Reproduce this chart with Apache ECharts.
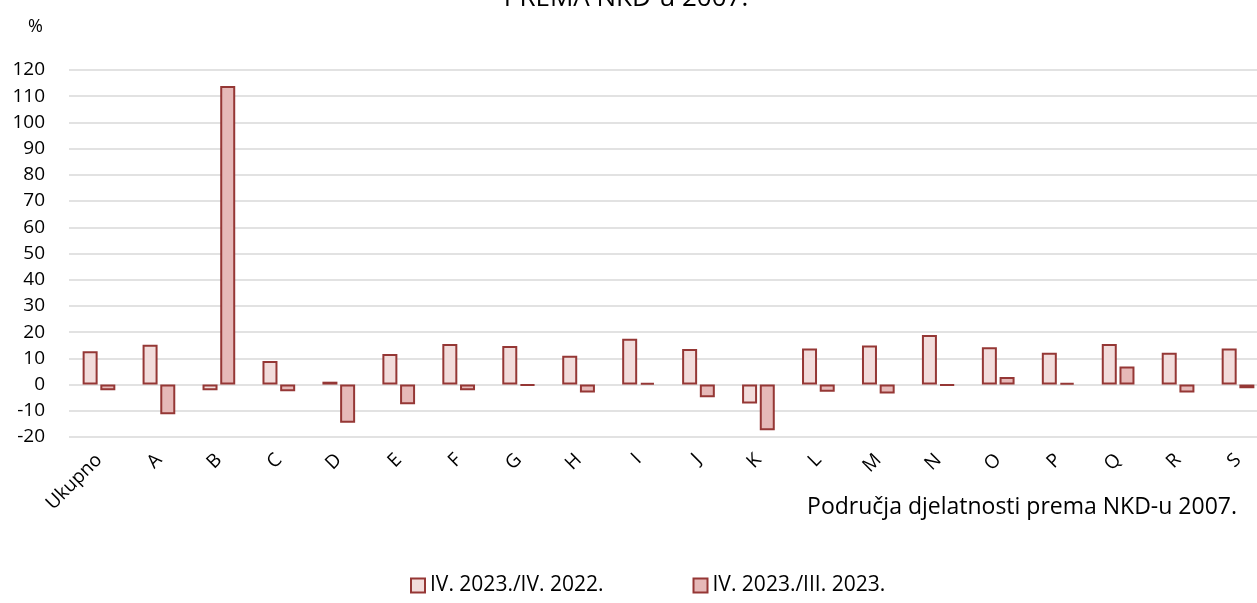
<!DOCTYPE html>
<html>
<head>
<meta charset="utf-8">
<script src="https://cdn.jsdelivr.net/npm/echarts@6/dist/echarts.min.js"></script>
<style>
  html, body { margin: 0; padding: 0; background: #fff; }
  #chart { width: 1257px; height: 603px; }
</style>
</head>
<body>
<div id="chart"></div>
<script>
var categories = ['Ukupno', 'A', 'B', 'C', 'D', 'E', 'F', 'G', 'H', 'I', 'J', 'K', 'L', 'M', 'N', 'O', 'P', 'Q', 'R', 'S'];
var godisnje = [12.7, 15.2, -2.2, 9.0, 1.1, 11.7, 15.5, 14.7, 11.0, 17.5, 13.6, -7.2, 13.8, 14.9, 18.9, 14.2, 12.1, 15.5, 12.1, 13.8];
var mjesecno = [-2.2, -11.3, 113.9, -2.5, -14.6, -7.5, -2.2, -0.3, -3.0, 0.7, -4.8, -17.4, -2.7, -3.4, -0.3, 2.9, 0.6, 6.9, -3.0, -1.4];
var seriesNames = ['IV. 2023./IV. 2022.', 'IV. 2023./III. 2023.'];

var font = 'Open Sans';
var chart = echarts.init(document.getElementById('chart'));

var option = {
    animation: false,
    textStyle: { fontFamily: font },
    title: {
        text: 'PREMA NKD-u 2007.',
        left: 621,
        textAlign: 'center',
        top: -19,
        textStyle: { fontFamily: font, fontSize: 26, fontWeight: 'normal', color: '#000' }
    },
    legend: {
        data: seriesNames,
        icon: 'rect',
        bottom: 2,
        left: 405,
        itemWidth: 14,
        itemHeight: 14,
        itemGap: 89,
        textStyle: { fontFamily: font, fontSize: 21, color: '#000' }
    },
    grid: {
        left: 69,
        right: -11,
        top: 70,
        bottom: 166,
        outerBoundsMode: 'none'
    },
    graphic: [
        {
            type: 'text',
            right: 20,
            top: 496,
            style: { text: 'Područja djelatnosti prema NKD-u 2007.', font: '23px "Open Sans"', fill: '#000' }
        }
    ],
    xAxis: {
        type: 'category',
        data: categories,
        axisLine: { show: false, onZero: false },
        axisTick: { show: false },
        axisLabel: { rotate: 45, fontSize: 19, color: '#000', margin: 20, interval: 0 }
    },
    yAxis: {
        type: 'value',
        min: -20,
        max: 120,
        interval: 10,
        name: '%',
        nameGap: 34,
        nameTextStyle: { fontSize: 18, color: '#000', align: 'right', padding: [0, 26, 0, 0] },
        axisLabel: { fontSize: 19, color: '#000', margin: 24, align: 'right' },
        splitLine: { lineStyle: { color: '#d9d9d9', width: 1.5 } }
    },
    series: [
        {
            name: seriesNames[0],
            type: 'bar',
            data: godisnje,
            barWidth: 15,
            barGap: '18%',
            itemStyle: { color: '#f2dcdb', borderColor: '#953735', borderWidth: 2 }
        },
        {
            name: seriesNames[1],
            type: 'bar',
            data: mjesecno,
            barWidth: 15,
            barGap: '18%',
            itemStyle: { color: '#e6b9b8', borderColor: '#953735', borderWidth: 2 }
        }
    ]
};

chart.setOption(option);
</script>
</body>
</html>
